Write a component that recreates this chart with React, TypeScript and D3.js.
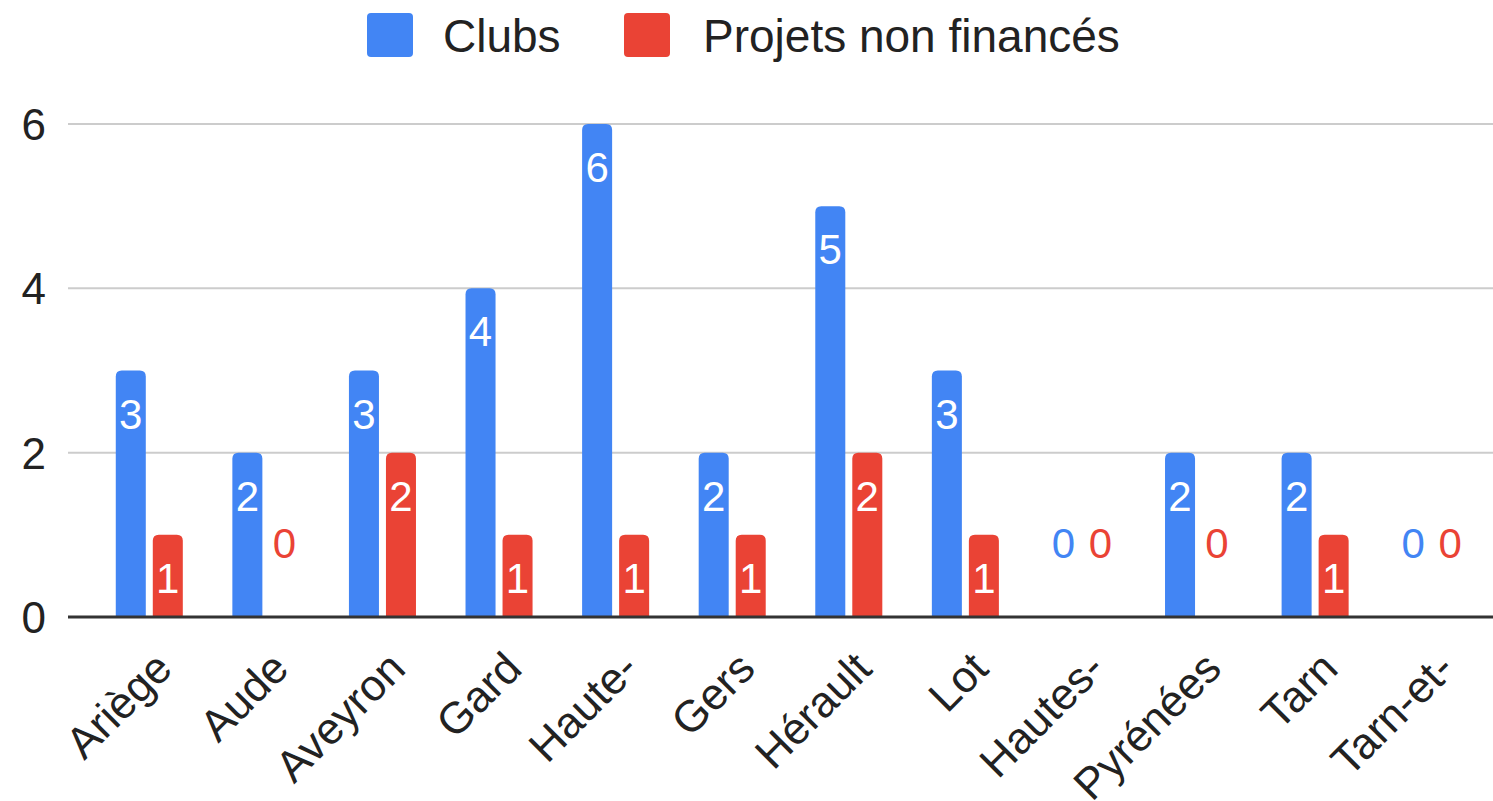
import React from "react";
import * as d3 from "d3";

const categories = ["Ariège", "Aude", "Aveyron", "Gard", "Haute-", "Gers", "Hérault", "Lot", "Hautes-", "Pyrénées", "Tarn", "Tarn-et-"];
const clubs = [3, 2, 3, 4, 6, 2, 5, 3, 0, 2, 2, 0];
const projets = [1, 0, 2, 1, 1, 1, 2, 1, 0, 0, 1, 0];
const seriesNames = ["Clubs", "Projets non financés"];
const seriesColors = ["#4285F4", "#EA4335"];
const yTicks = [0, 2, 4, 6];

const W = 1493;
const H = 801;
const FONT = "'Liberation Sans', Arial, sans-serif";

export default function App() {
  const x = d3.scaleBand<string>()
    .domain(categories)
    .range([91, 1490])
    .paddingInner(0.425)
    .paddingOuter(0.2125);

  const inner = d3.scaleBand<string>()
    .domain(seriesNames)
    .range([0, x.bandwidth()])
    .paddingInner(0.189);

  const y = d3.scaleLinear().domain([0, 6]).range([617, 124]);

  const series = [clubs, projets];

  // top-rounded bar path
  const barPath = (x0: number, y0: number, w: number, h: number, r: number) => {
    const rr = Math.min(r, h);
    return `M${x0},${y0 + h}V${y0 + rr}Q${x0},${y0} ${x0 + rr},${y0}H${x0 + w - rr}Q${x0 + w},${y0} ${x0 + w},${y0 + rr}V${y0 + h}Z`;
  };

  return (
    <svg width={W} height={H} style={{ position: "absolute", left: 0, top: 0, background: "#fff" }} fontFamily={FONT}>
      {/* legend */}
      <g>
        <rect x={367} y={13} width={46} height={44} rx={4} fill={seriesColors[0]} />
        <text x={443} y={52} fontSize={46} fill="#222">{seriesNames[0]}</text>
        <rect x={624} y={13} width={46} height={44} rx={4} fill={seriesColors[1]} />
        <text x={703} y={52} fontSize={46} fill="#222">{seriesNames[1]}</text>
      </g>

      {/* grid */}
      {yTicks.map(t => (
        <g key={t}>
          {t !== 0 && <line x1={68} x2={W} y1={y(t)} y2={y(t)} stroke="#cccccc" strokeWidth={2} />}
          <text x={46} y={y(t)} dy="0.36em" textAnchor="end" fontSize={44} fill="#222">{t}</text>
        </g>
      ))}

      {/* bars */}
      {categories.map((c, i) => (
        <g key={c} transform={`translate(${x(c)},0)`}>
          {series.map((vals, s) => {
            const v = vals[i];
            const bx = inner(seriesNames[s]) as number;
            const bw = inner.bandwidth();
            const top = y(v);
            const h = y(0) - top;
            return (
              <g key={s}>
                {v > 0 && <path d={barPath(bx, top, bw, h, 6)} fill={seriesColors[s]} />}
                {v > 0 ? (
                  <text x={bx + bw / 2} y={top + 58} textAnchor="middle" fontSize={42} fill="#fff"
                    stroke={seriesColors[s]} strokeWidth={2} paintOrder="stroke">{v}</text>
                ) : (
                  <text x={bx + bw / 2} y={y(0) - 59} textAnchor="middle" fontSize={42} fill={seriesColors[s]}>{v}</text>
                )}
              </g>
            );
          })}
        </g>
      ))}

      {/* baseline */}
      <line x1={68} x2={W} y1={y(0)} y2={y(0)} stroke="#333" strokeWidth={3} />

      {/* x labels */}
      {categories.map(c => {
        const cx = (x(c) as number) + x.bandwidth() / 2;
        return (
          <text key={c} transform={`translate(${cx + 25},${y(0) + 54}) rotate(-45)`} textAnchor="end"
            fontSize={44} fill="#222">{c}</text>
        );
      })}
    </svg>
  );
}
